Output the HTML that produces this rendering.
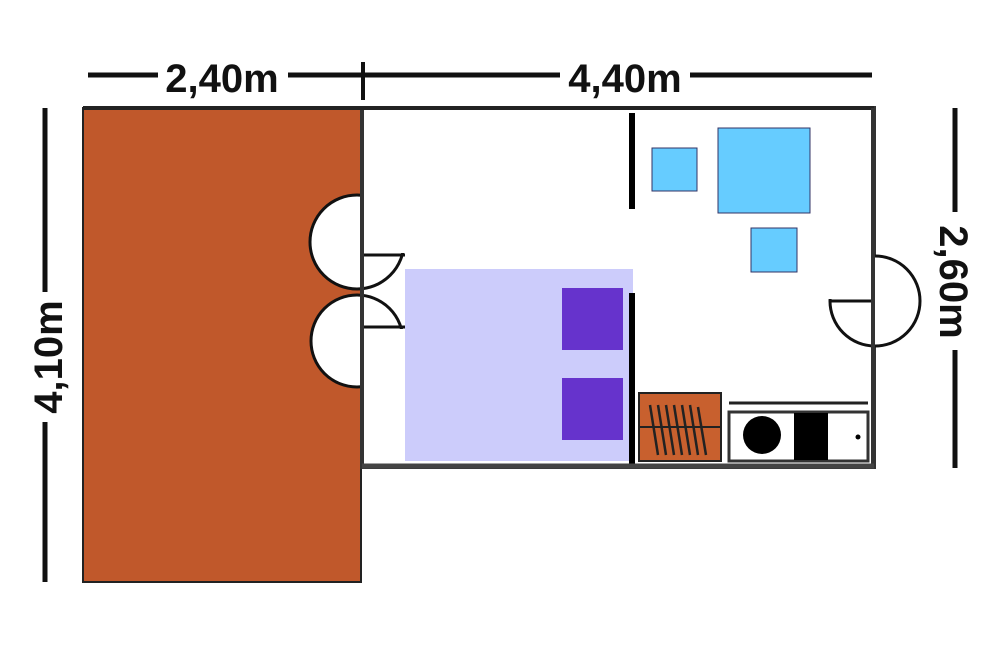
<!DOCTYPE html>
<html><head><meta charset="utf-8"><style>
html,body{margin:0;padding:0;background:#fff;}
svg{display:block;}
text{font-family:"Liberation Sans",sans-serif;font-weight:bold;font-size:40px;fill:#111;}
</style></head><body>
<svg width="1000" height="667" viewBox="0 0 1000 667">
<!-- terrace -->
<rect x="83" y="108" width="278" height="474" fill="#c0582b" stroke="#222" stroke-width="2"/>
<!-- building -->
<rect x="362" y="108" width="512" height="359" fill="#fff" stroke="#333" stroke-width="4"/>
<line x1="83" y1="108" x2="874" y2="108" stroke="#222" stroke-width="4"/>
<!-- doors -->
<circle cx="357" cy="242" r="47" fill="#fff" stroke="#111" stroke-width="3"/>
<rect x="364" y="190" width="50" height="63" fill="#fff"/>
<line x1="362" y1="255" x2="405" y2="255" stroke="#111" stroke-width="3"/>
<circle cx="357" cy="341" r="46" fill="#fff" stroke="#111" stroke-width="3"/>
<rect x="364" y="329" width="50" height="65" fill="#fff"/>
<line x1="362" y1="327" x2="405" y2="327" stroke="#111" stroke-width="3"/>
<line x1="362" y1="180" x2="362" y2="466" stroke="#333" stroke-width="4"/>
<circle cx="875" cy="301" r="45" fill="#fff" stroke="#111" stroke-width="3"/>
<rect x="826" y="250" width="46" height="49" fill="#fff"/>
<line x1="829" y1="301" x2="874" y2="301" stroke="#111" stroke-width="3"/>
<line x1="873" y1="108" x2="873" y2="467" stroke="#333" stroke-width="4"/>
<!-- bed -->
<rect x="405" y="269" width="228" height="192" fill="#ccccfb"/>
<rect x="562" y="288" width="61" height="62" fill="#6633cc"/>
<rect x="562" y="378" width="61" height="62" fill="#6633cc"/>
<!-- partitions -->
<rect x="629" y="113" width="6" height="96" fill="#000"/>
<rect x="629" y="293" width="6" height="175" fill="#000"/>
<!-- table and chairs -->
<rect x="652" y="148" width="45" height="43" fill="#66ccff" stroke="#336" stroke-width="1"/>
<rect x="718" y="128" width="92" height="85" fill="#66ccff" stroke="#336" stroke-width="1"/>
<rect x="751" y="228" width="46" height="44" fill="#66ccff" stroke="#336" stroke-width="1"/>
<!-- kitchen storage -->
<rect x="639" y="393" width="82" height="68" fill="#c8602e" stroke="#222" stroke-width="2"/>
<line x1="640" y1="427" x2="720" y2="427" stroke="#222" stroke-width="2"/>
<g stroke="#222" stroke-width="2.5">
<line x1="650" y1="405" x2="658" y2="455"/><line x1="658" y1="405" x2="666" y2="455"/>
<line x1="666" y1="405" x2="674" y2="455"/><line x1="674" y1="405" x2="682" y2="455"/>
<line x1="682" y1="405" x2="690" y2="455"/><line x1="690" y1="405" x2="698" y2="455"/>
<line x1="698" y1="407" x2="706" y2="455"/>
</g>
<!-- counter -->
<line x1="729" y1="403" x2="868" y2="403" stroke="#222" stroke-width="3"/>
<rect x="729" y="412" width="139" height="49" fill="#fff" stroke="#333" stroke-width="3"/>
<circle cx="762" cy="435" r="19" fill="#000"/>
<rect x="794" y="413" width="34" height="47" fill="#000"/>
<circle cx="858" cy="437" r="2.5" fill="#000"/>
<line x1="362" y1="466" x2="874" y2="466" stroke="#444" stroke-width="5"/>
<!-- dimensions -->
<g stroke="#111" stroke-width="5">
<line x1="88" y1="75" x2="158" y2="75"/><line x1="288" y1="75" x2="362" y2="75"/>
<line x1="362" y1="75" x2="560" y2="75"/><line x1="690" y1="75" x2="872" y2="75"/>
<line x1="363" y1="62" x2="363" y2="100" stroke-width="4"/>
<line x1="45" y1="108" x2="45" y2="292"/><line x1="45" y1="422" x2="45" y2="582"/>
<line x1="955" y1="108" x2="955" y2="212"/><line x1="955" y1="350" x2="955" y2="468"/>
</g>
<text x="222" y="92" text-anchor="middle">2,40m</text>
<text x="625" y="92" text-anchor="middle">4,40m</text>
<text transform="translate(62,357) rotate(-90)" text-anchor="middle">4,10m</text>
<text transform="translate(940,282) rotate(90)" text-anchor="middle">2,60m</text>
</svg>
</body></html>
